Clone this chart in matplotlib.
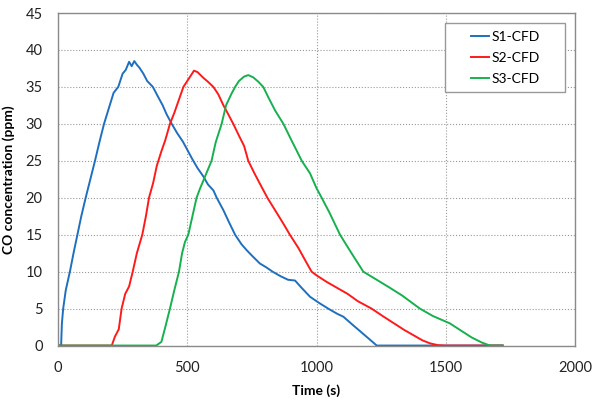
import matplotlib
matplotlib.use("Agg")
import matplotlib.pyplot as plt
from matplotlib.patches import Rectangle

plt.rcParams['font.family'] = ['Lato', 'DejaVu Sans']

# S1-CFD
s1_time = [0, 12, 15, 20, 30, 46, 60, 75, 90, 107, 125, 143, 160, 178, 200, 215,
           233, 250, 262, 275, 285, 295, 305, 315, 330, 345, 367, 385, 405, 420,
           440, 460, 483, 500, 520, 540, 562, 580, 601, 614, 640, 660, 685, 710,
           730, 755, 781, 805, 830, 860, 890, 917, 940, 975, 1013, 1050, 1080,
           1104, 1140, 1170, 1200, 1233, 1720]
s1_co = [0, 0, 3, 5, 7.5, 10, 12.5, 15, 17.5, 20, 22.5, 25, 27.5, 30, 32.5, 34.2,
         35, 36.8, 37.3, 38.4, 37.8, 38.5, 38.0, 37.6, 36.8, 35.8, 35, 33.8, 32.5,
         31.3, 30, 28.8, 27.6, 26.5, 25.2, 24, 22.9, 21.8, 21, 20, 18.3, 16.8, 15,
         13.7, 12.9, 12.0, 11.1, 10.6, 10.0, 9.4, 8.9, 8.8, 7.9, 6.6, 5.7, 4.9,
         4.3, 3.9, 2.8, 1.9, 1.0, 0, 0]

# S2-CFD
s2_time = [0, 208, 220, 235, 246, 260, 275, 289, 305, 326, 340, 352, 368, 382, 400,
           415, 433, 450, 470, 485, 500, 515, 526, 540, 560, 580, 601, 620, 640,
           660, 678, 700, 720, 736, 760, 781, 810, 840, 870, 897, 930, 960, 981,
           1000, 1040, 1080, 1120, 1160, 1213, 1260, 1300, 1340, 1380, 1410, 1439,
           1470, 1497, 1720]
s2_co = [0, 0, 1.2, 2.2, 5, 7, 8, 10, 12.5, 15, 17.5, 20, 22, 24.3, 26.3, 27.8, 30,
         31.5, 33.5, 35, 35.8, 36.6, 37.2, 37.0, 36.3, 35.7, 35, 34, 32.5, 31.2,
         30, 28.4, 27, 25, 23.3, 21.9, 20, 18.3, 16.6, 15, 13.2, 11.3, 10, 9.5,
         8.6, 7.8, 7.0, 6.0, 5, 3.9, 3.0, 2.1, 1.3, 0.7, 0.3, 0.05, 0, 0]

# S3-CFD
s3_time = [0, 380, 400, 415, 433, 450, 468, 480, 491, 504, 520, 536, 550, 562, 575,
           594, 610, 633, 650, 670, 685, 700, 720, 736, 755, 775, 794, 815, 840,
           872, 900, 943, 975, 1000, 1020, 1050, 1091, 1130, 1181, 1233, 1280,
           1330, 1400, 1450, 1516, 1560, 1600, 1640, 1671, 1720]
s3_co = [0, 0, 0.5, 2.5, 5, 7.5, 10, 12.5, 14, 15, 17.5, 20, 21.3, 22.3, 23.4, 25,
         27.5, 30, 32.5, 34, 35, 35.8, 36.4, 36.6, 36.3, 35.7, 35, 33.5, 31.8, 30,
         28, 25, 23.3, 21.3, 20, 18, 15, 12.8, 10, 8.9, 7.9, 6.8, 5, 4.0, 3.0, 2.0,
         1.1, 0.4, 0, 0]

series = [
    ('S1-CFD', s1_time, s1_co, '#1f6fbf'),
    ('S2-CFD', s2_time, s2_co, '#ff1a1a'),
    ('S3-CFD', s3_time, s3_co, '#17b04f'),
]

fig = plt.figure(figsize=(6.0, 4.07), dpi=100)
ax = fig.add_axes([0.0967, 0.151, 0.8616, 0.817])

for name, t, co, color in series:
    ax.plot(t, co, color=color, linewidth=1.4, label=name)

ax.set_xlim(0, 2000)
ax.set_ylim(0, 45)
ax.set_xticks([0, 500, 1000, 1500, 2000])
ax.set_yticks(range(0, 46, 5))
ax.grid(True, linestyle=':', color='#999999', linewidth=0.8)
ax.set_axisbelow(True)
ax.tick_params(length=0, labelsize=10.5, pad=11, colors='#222222')
for sp in ax.spines.values():
    sp.set_color('#8a8a8a')
    sp.set_linewidth(1.0)

ax.set_xlabel('Time (s)', fontsize=10, fontweight='bold', labelpad=7)
ax.set_ylabel('CO concentration (ppm)', fontsize=10, fontweight='bold', labelpad=8)

# Excel-style legend box
box = Rectangle((0.749, 0.762), 0.232, 0.208, transform=ax.transAxes,
                facecolor='white', edgecolor='#999999', linewidth=1.0, zorder=5)
ax.add_patch(box)
leg = ax.legend(loc='center', bbox_to_anchor=(0.865, 0.866), frameon=False,
                fontsize=10, handlelength=1.3, handletextpad=0.15,
                labelspacing=0.65)
leg.set_zorder(6)

fig.savefig('out.png', dpi=100)
